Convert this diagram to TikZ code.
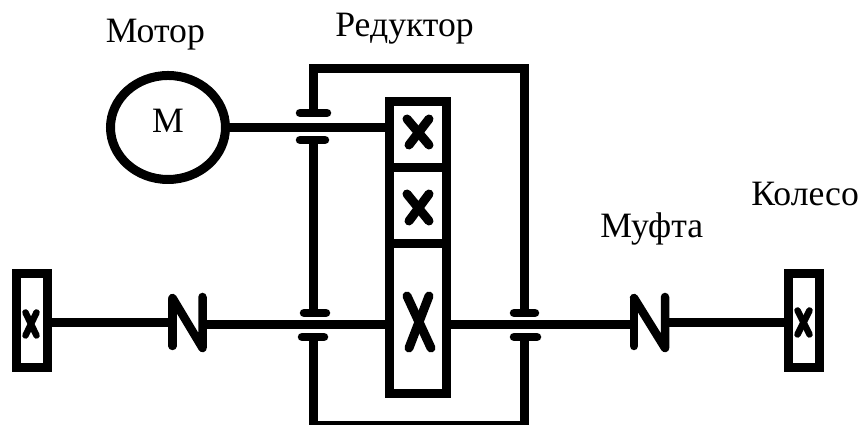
\documentclass[tikz,border=0pt]{standalone}
\usepackage{fontspec}
\setmainfont{Liberation Serif}
\usetikzlibrary{shapes.geometric}
\tikzset{
    shaft/.style={line width=0.18cm},
    plate/.style={line width=0.17cm, line cap=round, line join=round},
    cross/.style={line width=0.18cm, line cap=round},
    smallcross/.style={line width=0.13cm, line cap=round},
    box/.style={draw, line width=0.18cm, inner sep=0, minimum width=#1},
    caption/.style={inner sep=0, font=\fontsize{20.3}{22}\selectfont},
}

\begin{document}
\begin{tikzpicture}
        \useasboundingbox (0,0) rectangle (17.22,8.5);
        %motor
            \node[draw, ellipse, line width=0.18cm, inner sep=0, minimum width=2.3cm, minimum height=2.08cm] (motor) at (3.36,5.95) {};
        %gears and wheels
            \node[box=1.14cm, minimum height=1.33cm] (gearA) at (8.36,5.805) {};
            \node[box=1.14cm, minimum height=1.52cm] (gearB) at (8.36,4.38) {};
            \node[box=1.14cm, minimum height=2.99cm] (gearC) at (8.36,2.125) {};
            \node[box=0.62cm, minimum height=1.89cm] (wheelL) at (0.64,2.085) {};
            \node[box=0.62cm, minimum height=1.89cm] (wheelR) at (16.07,2.085) {};
        %couplings
            \coordinate (coupLa) at (3.45,2.04);
            \coordinate (coupLb) at (4.05,2.0);
            \coordinate (coupRa) at (12.68,2.0);
            \coordinate (coupRb) at (13.3,2.04);
            \draw[plate] (3.45,2.52) -- (3.45,1.58);
            \draw[plate] (3.45,2.54) -- (4.05,1.54) -- (4.05,2.56);
            \draw[plate] (12.68,2.52) -- (12.68,1.58);
            \draw[plate] (12.68,2.54) -- (13.3,1.54) -- (13.3,2.56);
        % shafts
            \draw[shaft] (motor.east) -- (motor.east -| gearA.west);
            \draw[shaft] (wheelL.east |- coupLa) -- (coupLa);
            \draw[shaft] (coupLb) -- (coupLb -| gearC.west);
            \draw[shaft] (gearC.east |- coupRa) -- (coupRa);
            \draw[shaft] (coupRb) -- (coupRb -| wheelR.west);
        % housing
            \draw[shaft] (6.26,6.24) -- (6.26,7.12) -- (10.48,7.12) -- (10.48,2.24);
            \draw[shaft] (6.26,5.7) -- (6.26,2.24);
            \draw[shaft] (6.26,1.76) -- (6.26,-0.02) -- (10.48,-0.02) -- (10.48,1.76);
        % bearing plates
            \draw[plate] (6.0,6.24) -- (6.54,6.24);
            \draw[plate] (6.0,5.7) -- (6.5,5.7);
            \draw[plate] (6.08,2.24) -- (6.52,2.24);
            \draw[plate] (6.04,1.76) -- (6.48,1.76);
            \draw[plate] (10.28,2.24) -- (10.7,2.24);
            \draw[plate] (10.28,1.76) -- (10.74,1.76);
        % crosses
            \draw[cross] (8.14,6.12) -- (8.58,5.6);
            \draw[cross] (8.58,6.12) -- (8.18,5.6);
            \draw[cross] (8.14,4.62) -- (8.58,4.08);
            \draw[cross] (8.58,4.62) -- (8.18,4.08);
            \draw[cross] (8.14,2.58) -- (8.62,1.54);
            \draw[cross] (8.58,2.58) -- (8.18,1.54);
            \draw[smallcross] (0.51,2.25) -- (0.73,1.79);
            \draw[smallcross] (0.73,2.25) -- (0.51,1.79);
            \draw[smallcross] (15.95,2.29) -- (16.19,1.81);
            \draw[smallcross] (16.19,2.29) -- (15.95,1.81);
        %nodes
            \node[caption, anchor=base] (motorletter) at (3.36,5.84) {М};
            \node[caption, anchor=base west] (motorname) at (2.11,7.64) {Мотор};
            \node[caption, anchor=base west] (gearname) at (6.7,7.76) {Редуктор};
            \node[caption, anchor=base west] (couplingname) at (12.0,3.74) {Муфта};
            \node[caption, anchor=base west] (wheelname) at (15.02,4.38) {Колесо};
    \end{tikzpicture}
\end{document}
